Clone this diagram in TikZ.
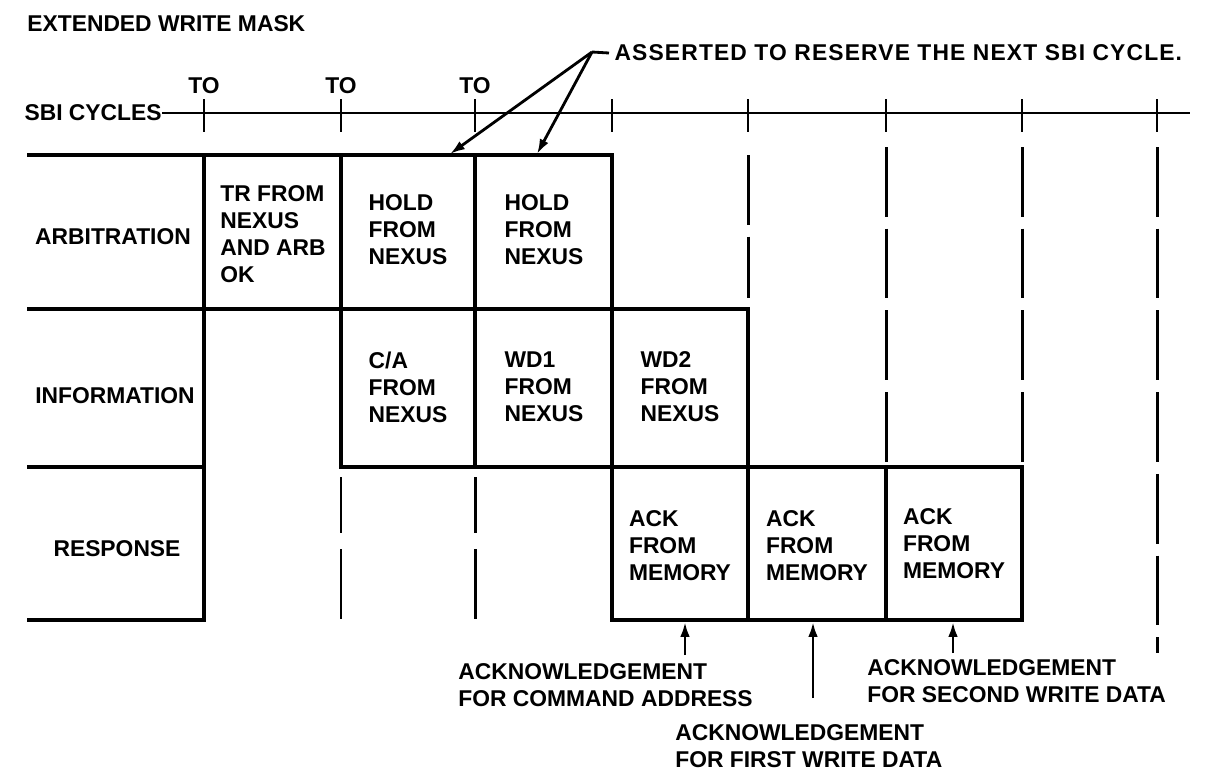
\documentclass[tikz,border=0pt]{standalone}
\usepackage{fontspec}
\setmainfont{Liberation Sans}
\newfontfamily\widefont[LetterSpace=5]{Liberation Sans}
\usetikzlibrary{arrows.meta}
\tikzset{
  txt/.style={font=\bfseries\fontsize{13}{15.4}\selectfont, inner sep=0pt},
  cell/.style={txt, align=left},
  rule/.style={line width=2pt, line cap=rect},
  thin/.style={line width=1.6pt},
  gap/.style={line width=1.7pt, dash pattern=on 39.7pt off 6.8pt},
  ptr/.style={line width=1.6pt, -{Latex[length=8.5pt,width=5.5pt]}},
}
\begin{document}
\begin{tikzpicture}[x=0.02cm, y=-0.02cm]
  \useasboundingbox (0,0) rectangle (1226,772);
  \node[txt, anchor=west] (title) at (27,24) {EXTENDED WRITE MASK};
  \node[txt, anchor=west, inner xsep=3pt] (note) at (609,53) {\widefont\bfseries ASSERTED TO RESERVE THE NEXT SBI CYCLE.};
  \node[txt, anchor=east] (sbi) at (162,113) {SBI CYCLES};
  \coordinate (tend) at (1190,113);
  \draw[thin] (sbi.east) -- (tend);
  \foreach \x in {204,341,475,612,748,886,1022,1157}
    \draw[thin] (\x,99) -- (\x,132);
  \foreach \x in {204,341,475}
    \node[txt] (to\x) at (\x,86) {TO};
  \draw[rule] (29,155) -- (612,155) -- (612,620) -- (1022,620) -- (1022,467) -- (341,467) -- (341,155);
  \draw[rule] (475,155) -- (475,467);
  \draw[rule] (29,309) -- (748,309) -- (748,620);
  \draw[rule] (886,467) -- (886,620);
  \draw[rule] (204,155) -- (204,620) -- (29,620);
  \draw[rule] (29,467) -- (204,467);
  \foreach \x/\ya/\yb in {748/155/298, 886/147/463, 1022/147/463, 1157/147/653}
    \draw[gap] (\x,\ya) -- (\x,\yb);
  \foreach \x in {341,475}
    \draw[gap, dash pattern=on 32pt off 9pt on 40pt off 9pt] (\x,477) -- (\x,619);
  \node[txt] (arb) at (113,237) {ARBITRATION};
  \node[txt] (info) at (115,396) {INFORMATION};
  \node[txt] (resp) at (117,549) {RESPONSE};
  \node[cell] (tr) at (273,234) {TR FROM\\NEXUS\\AND ARB\\OK};
  \node[cell] (hold1) at (408,230) {HOLD\\FROM\\NEXUS};
  \node[cell] (hold2) at (544,230) {HOLD\\FROM\\NEXUS};
  \node[cell] (ca) at (408,387) {C/A\\FROM\\NEXUS};
  \node[cell] (wd1) at (544,387) {WD1\\FROM\\NEXUS};
  \node[cell] (wd2) at (680,387) {WD2\\FROM\\NEXUS};
  \node[cell] (ack1) at (680,546) {ACK\\FROM\\MEMORY};
  \node[cell] (ack2) at (817,546) {ACK\\FROM\\MEMORY};
  \node[cell] (ack3) at (954,544) {ACK\\FROM\\MEMORY};
  \coordinate (fork) at (592,52);
  \coordinate (tip1) at (450,154);
  \coordinate (tip2) at (537,154);
  \draw[thin] (note.west) -- (fork);
  \draw[ptr] (fork) -- (tip1);
  \draw[ptr] (fork) -- (tip2);
  \node[cell, anchor=west] (lab1) at (458,685) {ACKNOWLEDGEMENT\\FOR COMMAND ADDRESS};
  \node[cell, anchor=west] (lab2) at (675,746) {ACKNOWLEDGEMENT\\FOR FIRST WRITE DATA};
  \node[cell, anchor=west] (lab3) at (867,681) {ACKNOWLEDGEMENT\\FOR SECOND WRITE DATA};
  \foreach \x/\y in {685/655, 813/698, 953/653}{
    \coordinate (s\x) at (\x,\y);
    \coordinate (e\x) at (\x,622);
    \draw[ptr] (s\x) -- (e\x);
  }
\end{tikzpicture}
\end{document}
